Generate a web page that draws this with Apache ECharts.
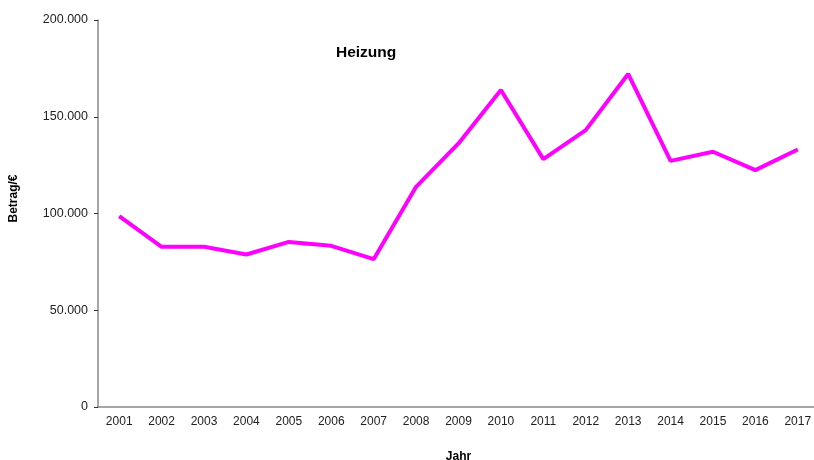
<!DOCTYPE html>
<html>
<head>
<meta charset="utf-8">
<script src="https://cdn.jsdelivr.net/npm/echarts@6/dist/echarts.min.js"></script>
<style>
  html, body { margin: 0; padding: 0; background: #fff; }
  #chart { width: 814px; height: 460px; }
</style>
</head>
<body>
<div id="chart"></div>
<script>
// Jahre und Beträge
var years = ['2001', '2002', '2003', '2004', '2005', '2006', '2007', '2008', '2009',
  '2010', '2011', '2012', '2013', '2014', '2015', '2016', '2017'];
var heizung = [98600, 82800, 82800, 78800, 85300, 83300, 76400, 113800, 136200,
  163800, 128100, 143100, 172100, 127200, 131900, 122400, 133100];
var yTicks = [0, 50000, 100000, 150000, 200000];

function fmt(v) {
  // deutsche Tausendertrennung
  return String(v).replace(/\B(?=(\d{3})+(?!\d))/g, '.');
}

var chart = echarts.init(document.getElementById('chart'));
var option = {
  animation: false,
  textStyle: { fontFamily: 'Liberation Sans, Arial, sans-serif' },
  title: {
    text: 'Heizung',
    left: 331,
    top: 40,
    textStyle: { fontSize: 15.5, fontWeight: 'bold', color: '#000' }
  },
  grid: {
    left: 98,
    width: 721,
    top: 20,
    height: 387,
    outerBoundsMode: 'none',
    containLabel: false
  },
  xAxis: {
    type: 'category',
    data: years,
    boundaryGap: true,
    name: 'Jahr',
    nameLocation: 'middle',
    nameGap: 44,
    nameTextStyle: { fontSize: 12, fontWeight: 'bold', color: '#000' },
    axisLine: { lineStyle: { color: '#888', width: 1.5 } },
    axisTick: { length: 4, lineStyle: { color: '#333' } },
    axisLabel: { fontSize: 12, color: '#222', margin: 9 },
    splitLine: { show: false }
  },
  yAxis: {
    type: 'value',
    min: 0,
    max: 200000,
    interval: 50000,
    name: 'Betrag/€',
    nameLocation: 'middle',
    nameGap: 78,
    nameTextStyle: { fontSize: 12, fontWeight: 'bold', color: '#000', padding: [0, 0, 0, 30] },
    axisLine: { show: true, lineStyle: { color: '#888', width: 1.5 } },
    axisTick: { show: true, length: 4, lineStyle: { color: '#333' } },
    axisLabel: {
      fontSize: 12.5,
      color: '#222',
      margin: 10,
      formatter: function (v) { return yTicks.indexOf(v) >= 0 ? fmt(v) : ''; }
    },
    splitLine: { show: false }
  },
  series: [{
    name: 'Heizung',
    type: 'line',
    data: heizung,
    symbol: 'none',
    lineStyle: { color: '#ff00ff', width: 4 },
    itemStyle: { color: '#ff00ff' }
  }]
};
chart.setOption(option);
</script>
</body>
</html>
